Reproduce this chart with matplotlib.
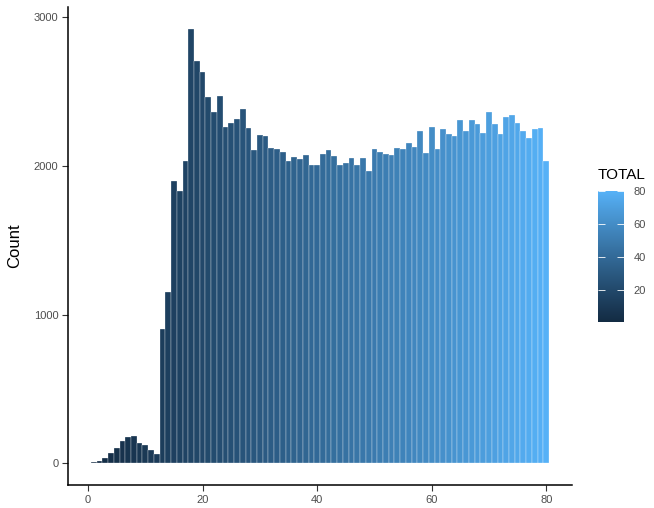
import numpy as np
import matplotlib
matplotlib.use('Agg')
import matplotlib.pyplot as plt
from matplotlib.colors import ListedColormap, Normalize, to_rgb
from matplotlib.cm import ScalarMappable

plt.rcParams['font.family'] = ['Liberation Sans', 'DejaVu Sans']

# histogram of TOTAL, one bin per integer value
total = np.arange(1, 81)
counts = [7, 15, 35, 67, 105, 151, 174, 183, 136, 120, 89, 60,
          904, 1155, 1896, 1829, 2035, 2922, 2704, 2628, 2461, 2360,
          2467, 2262, 2291, 2313, 2383, 2253, 2104, 2209, 2202, 2117,
          2110, 2095, 2035, 2057, 2048, 2070, 2003, 2003, 2079, 2108,
          2064, 2003, 2017, 2050, 2003, 2050, 1965, 2110, 2095, 2082,
          2072, 2117, 2110, 2153, 2130, 2231, 2084, 2260, 2115, 2247,
          2215, 2199, 2307, 2231, 2307, 2282, 2222, 2360, 2282, 2215,
          2329, 2345, 2291, 2231, 2184, 2247, 2253, 2032]

#%% ggplot-like gradient, interpolated in Lab space

M = np.array([[0.4124, 0.3576, 0.1805],
              [0.2126, 0.7152, 0.0722],
              [0.0193, 0.1192, 0.9505]])
white = np.array([0.95047, 1.0, 1.08883])

def rgb2lab(c):
    c = np.asarray(c)
    lin = np.where(c <= 0.04045, c / 12.92, ((c + 0.055) / 1.055) ** 2.4)
    xyz = M @ lin / white
    f = np.where(xyz > 0.008856, np.cbrt(xyz), 7.787 * xyz + 16 / 116)
    return np.array([116 * f[1] - 16, 500 * (f[0] - f[1]), 200 * (f[1] - f[2])])

def lab2rgb(lab):
    fy = (lab[0] + 16) / 116
    fx = fy + lab[1] / 500
    fz = fy - lab[2] / 200
    f = np.array([fx, fy, fz])
    xyz = np.where(f ** 3 > 0.008856, f ** 3, (f - 16 / 116) / 7.787) * white
    lin = np.linalg.solve(M, xyz)
    c = np.where(lin <= 0.0031308, 12.92 * lin, 1.055 * np.clip(lin, 0, None) ** (1 / 2.4) - 0.055)
    return np.clip(c, 0, 1)

lo = rgb2lab(to_rgb('#132B43'))
hi = rgb2lab(to_rgb('#56B1F7'))
cmap = ListedColormap([lab2rgb(lo + t * (hi - lo)) for t in np.linspace(0, 1, 256)])
norm = Normalize(vmin=1, vmax=80)

#%% plot

fig = plt.figure(figsize=(6.54, 5.08), dpi=100)
ax = fig.add_axes([68/654, 23/508, 504/654, 478/508])

ax.bar(total, counts, width=1.0, color=cmap(norm(total)),
       edgecolor='white', linewidth=0.2)

ax.set_xlim(-3.5, 84.5)
ax.set_ylim(-146, 3068)
ax.set_xticks([0, 20, 40, 60, 80])
ax.set_yticks([0, 1000, 2000, 3000])
ax.tick_params(length=4, width=0.8, color='#333333', labelcolor='#4D4D4D',
               labelsize=8, pad=3)
ax.spines['top'].set_visible(False)
ax.spines['right'].set_visible(False)
for s in ['left', 'bottom']:
    ax.spines[s].set_linewidth(1.1)
ax.set_ylabel('Count', fontsize=12, labelpad=8)

# colour bar legend
cax = fig.add_axes([598/654, 186/508, 26/654, 131/508])
cb = fig.colorbar(ScalarMappable(norm=norm, cmap=cmap), cax=cax)
cb.outline.set_visible(False)
cb.set_ticks([20, 40, 60, 80])
cax.tick_params(axis='y', direction='in', length=5, width=0.6, color='white',
                labelcolor='#4D4D4D', labelsize=8, left=True, right=True, pad=7)
fig.text(598/654, 326/508, 'TOTAL', fontsize=11, ha='left', va='bottom')

fig.savefig('out.png', dpi=100)
